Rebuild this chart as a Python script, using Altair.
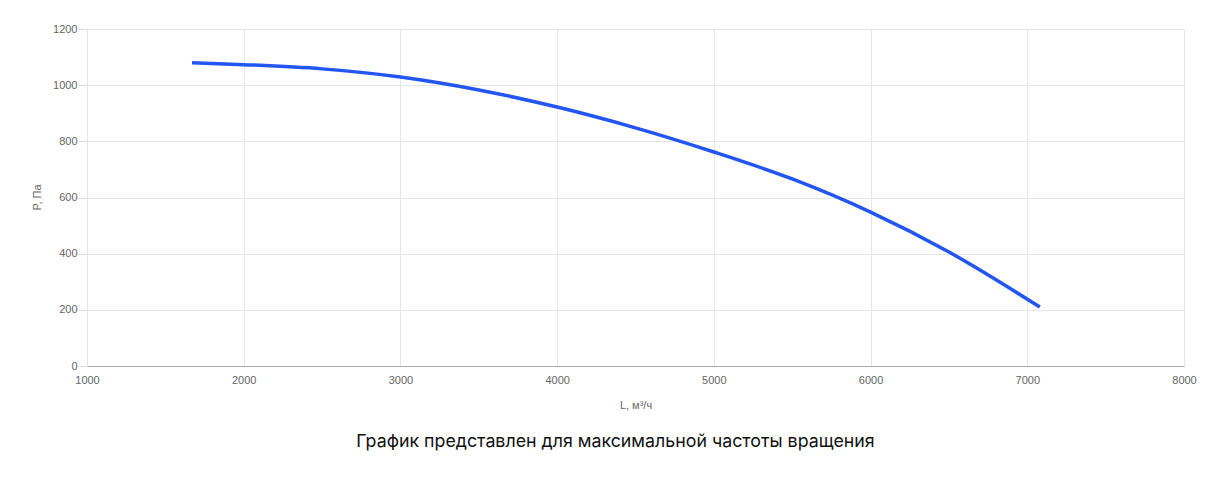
import altair as alt
import pandas as pd

flow = [1670, 2000, 2500, 3000, 3500, 4000, 4500, 5000, 5500, 6000, 6500, 7080]
pressure = [1080, 1073, 1058, 1029, 983, 922, 848, 762, 666, 548, 406, 210]

x_ticks = [1000, 2000, 3000, 4000, 5000, 6000, 7000, 8000]
y_ticks = [0, 200, 400, 600, 800, 1000, 1200]

df = pd.DataFrame({"L": flow, "P": pressure})

axis_common = dict(
    labelFont="Liberation Sans", labelFontSize=11, labelColor="#666666",
    titleFont="Liberation Sans", titleFontSize=11, titleColor="#666666",
    titleFontWeight="normal", gridColor="#e6e6e6", format="d",
)

chart = alt.Chart(df).mark_line(
    color="#2255f2", strokeWidth=3.5, interpolate="monotone"
).encode(
    x=alt.X("L:Q", scale=alt.Scale(domain=[1000, 8000], nice=False, zero=False),
            axis=alt.Axis(values=x_ticks, title="L, м³/ч", ticks=False, labelPadding=8,
                          domainColor="#aaaaaa", titleY=39, titleBaseline="middle",
                          labelFlush=False, **axis_common)),
    y=alt.Y("P:Q", scale=alt.Scale(domain=[0, 1200], nice=False),
            axis=alt.Axis(values=y_ticks, title="P, Па", ticks=True, tickSize=9,
                          tickColor="#dddddd", domainColor="#e6e6e6", labelPadding=1,
                          titleAngle=270, titleX=-50, titleY=168, titleAlign="center",
                          titleBaseline="middle", labelFlush=False, **axis_common)),
).properties(
    width=1097, height=337,
    padding={"left": 79, "top": 21, "right": 32, "bottom": 106},
    autosize=alt.AutoSizeParams(type="none"),
    title=alt.TitleParams(
        "График представлен для максимальной частоты вращения",
        orient="bottom", anchor="middle", offset=23, dx=-20, font="Inter",
        fontSize=17.8, fontWeight="normal", color="#111111",
    ),
).configure_view(stroke=None).configure(background="white")

chart.save("out.html", embed_options={"renderer": "svg", "actions": False})
